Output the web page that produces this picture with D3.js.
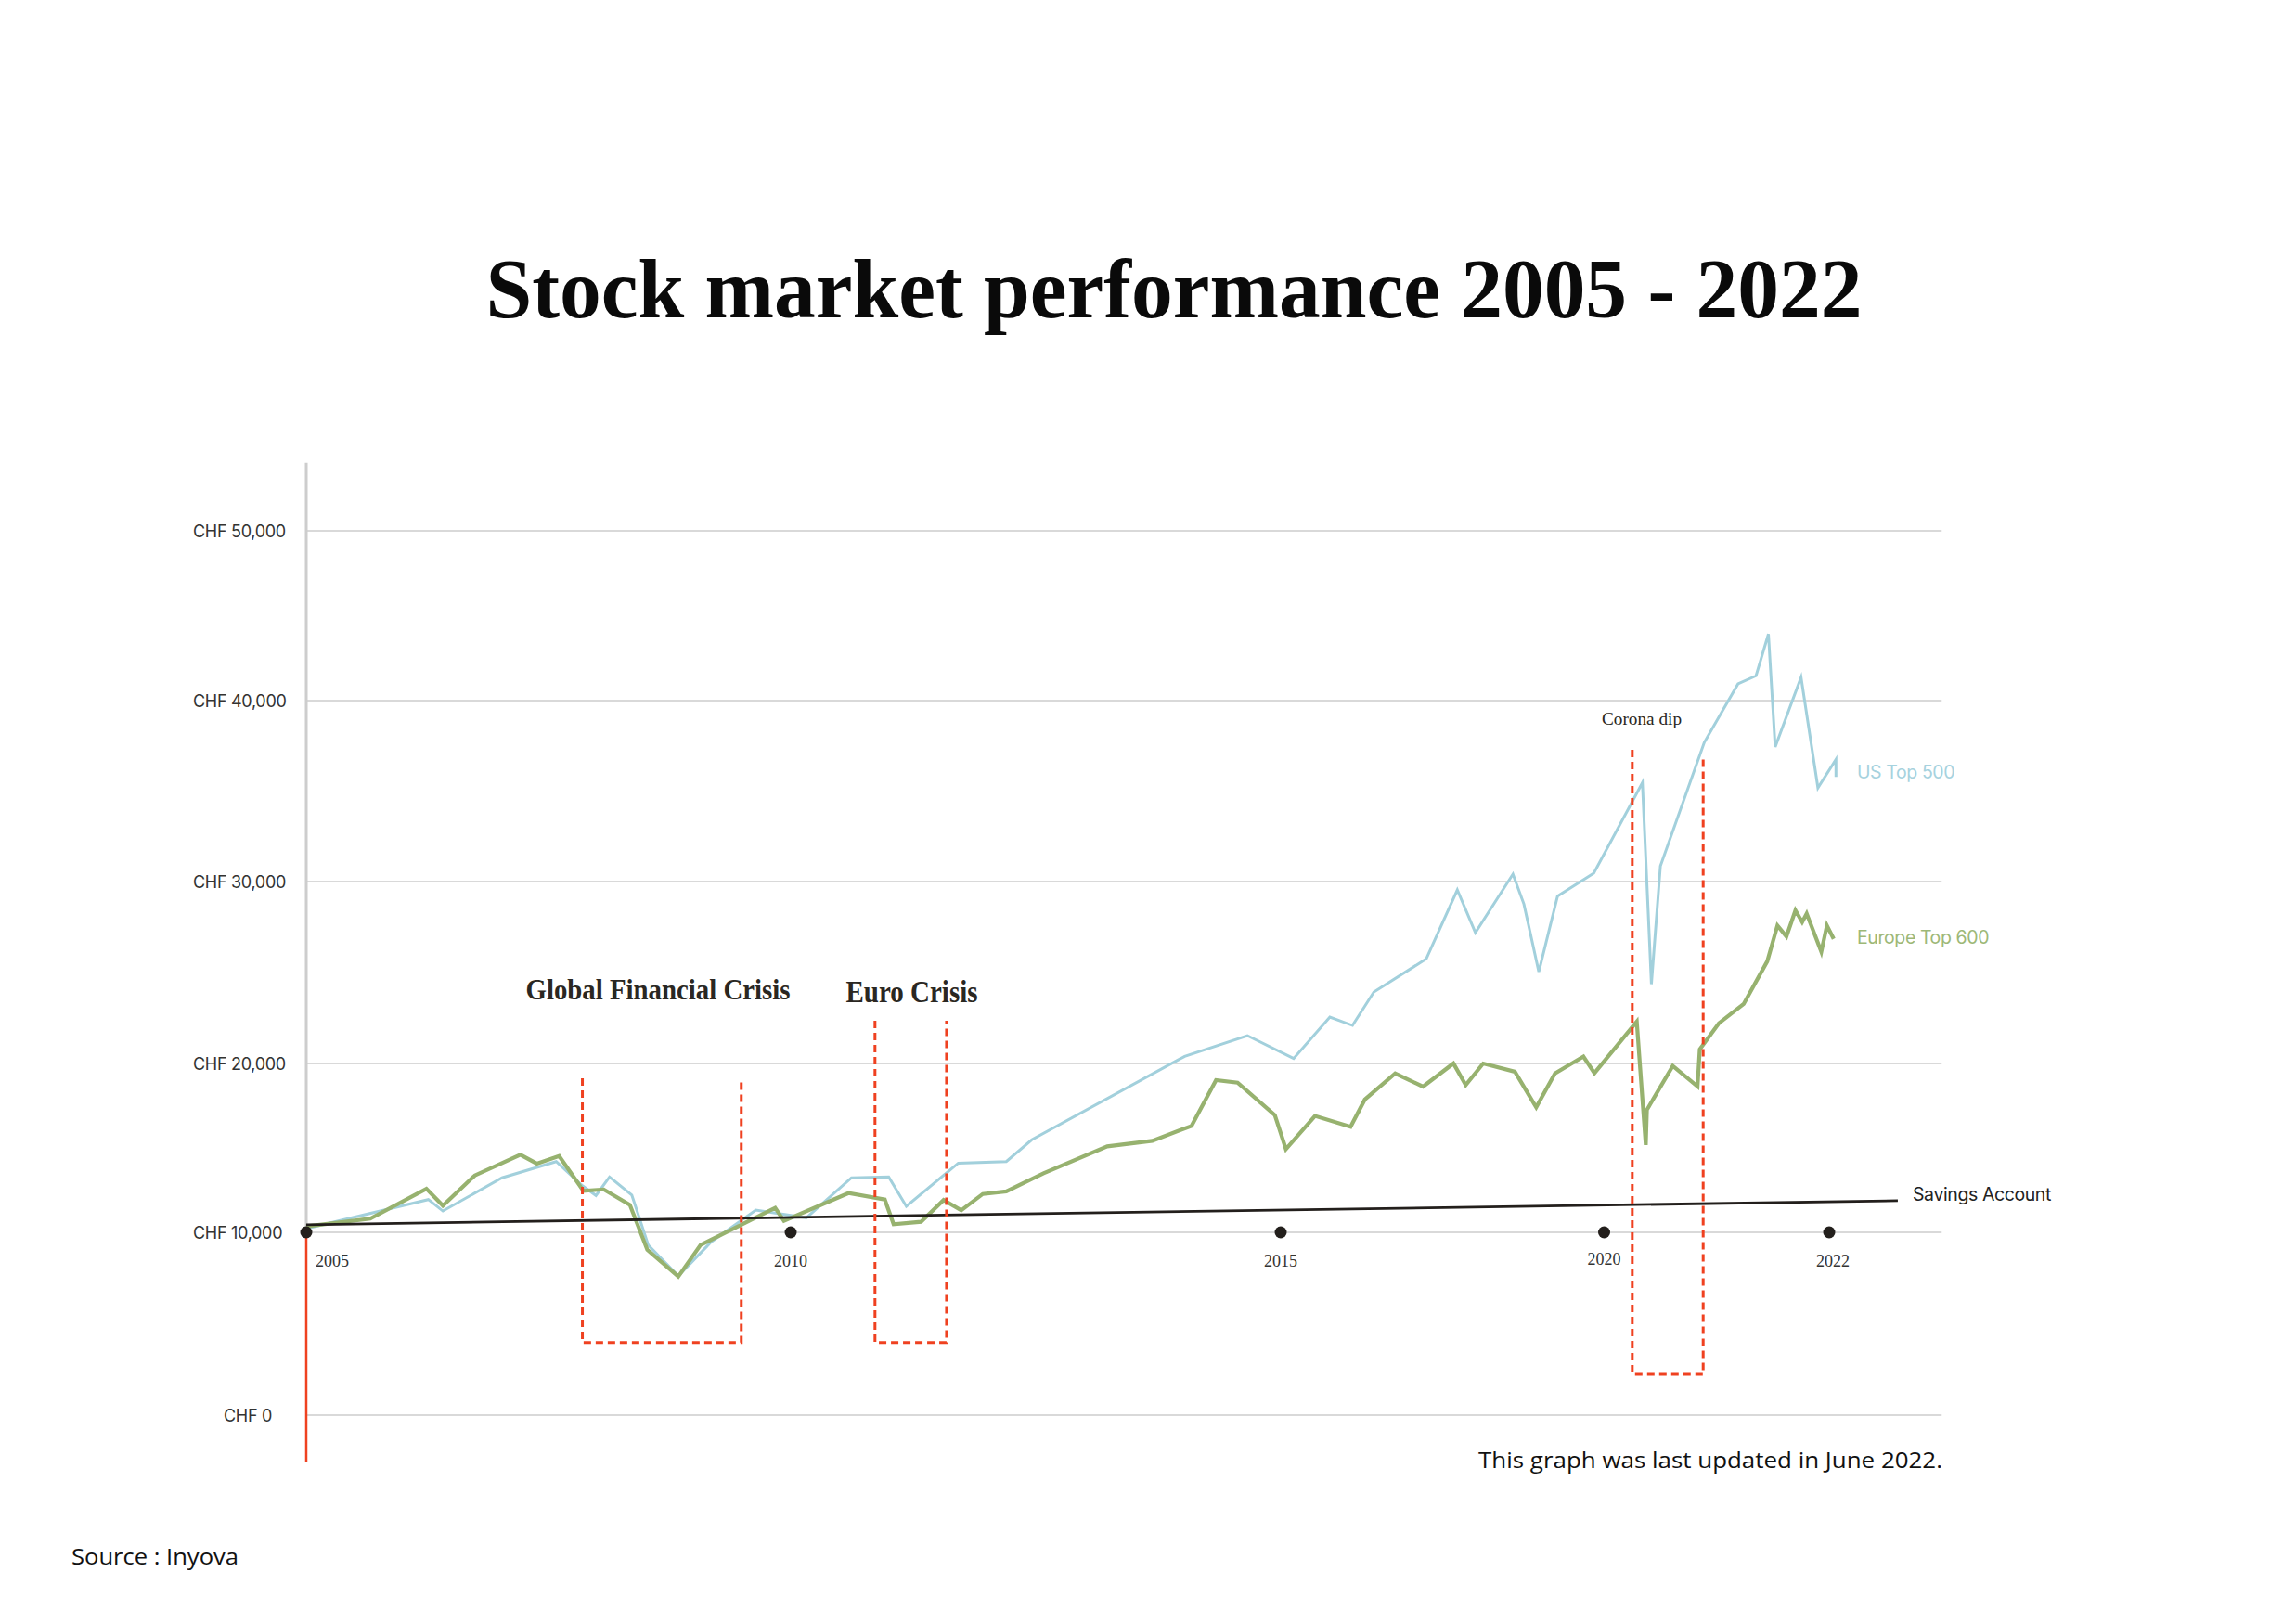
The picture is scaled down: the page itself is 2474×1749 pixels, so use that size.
<!DOCTYPE html>
<html>
<head>
<meta charset="utf-8">
<script src="https://cdn.jsdelivr.net/npm/d3@7"></script>
<style>
  html, body { margin: 0; padding: 0; background: #ffffff; }
  svg { display: block; }
</style>
</head>
<body>
<svg id="chart" width="2474" height="1749"></svg>
<script>
// ---------------- DATA ----------------
const yearTicks = [2005, 2010, 2015, 2020, 2022];
const yearLabels = ["2005", "2010", "2015", "2020", "2022"];
const valueTicks = [0, 10000, 20000, 30000, 40000, 50000];
const valueLabels = ["CHF 0", "CHF 10,000", "CHF 20,000", "CHF 30,000", "CHF 40,000", "CHF 50,000"];

const usDates = [2005.00, 2006.26, 2006.41, 2007.02, 2007.58, 2007.85, 2007.99, 2008.13, 2008.36, 2008.53,
  2008.84, 2009.18, 2009.64, 2010.16, 2010.62, 2011.00, 2011.18, 2011.71, 2012.20, 2012.46,
  2014.02, 2014.66, 2015.20, 2015.76, 2016.11, 2016.44, 2017.25, 2017.73, 2018.01, 2018.59,
  2018.76, 2018.99, 2019.28, 2019.84, 2020.34, 2020.42, 2020.50, 2020.89, 2021.19, 2021.35,
  2021.46, 2021.52, 2021.75, 2021.90, 2022.06, 2022.06];
const usValues = [10220, 11940, 11260, 13230, 14190, 12760, 12180, 13280, 12210, 9300,
  7610, 9480, 11320, 10860, 13230, 13280, 11540, 14100, 14190, 15480,
  20390, 21530, 20270, 22550, 22090, 23930, 25750, 29540, 27190, 30410,
  28760, 25040, 29200, 30460, 35460, 24360, 30860, 37690, 40990, 41460,
  43920, 37440, 41370, 35180, 36750, 35780];

const euDates = [2005.00, 2005.66, 2006.24, 2006.41, 2006.74, 2007.21, 2007.38, 2007.61, 2007.86, 2008.07,
  2008.34, 2008.52, 2008.84, 2009.07, 2009.84, 2009.93, 2010.59, 2010.96, 2011.05, 2011.33,
  2011.56, 2011.74, 2011.96, 2012.20, 2012.58, 2013.23, 2013.69, 2014.09, 2014.34, 2014.56,
  2014.94, 2015.08, 2015.53, 2016.08, 2016.30, 2016.77, 2017.20, 2017.67, 2017.86, 2018.13,
  2018.62, 2018.95, 2019.24, 2019.68, 2019.85, 2020.29, 2020.37, 2020.38, 2020.61, 2020.83,
  2020.85, 2021.02, 2021.24, 2021.45, 2021.54, 2021.62, 2021.70, 2021.76, 2021.80, 2021.93,
  2021.98, 2022.04];
const euValues = [10350, 10810, 12580, 11580, 13370, 14600, 14070, 14520, 12460, 12540,
  11630, 9050, 7580, 9310, 11450, 10680, 12320, 11940, 10480, 10620,
  11910, 11300, 12270, 12420, 13500, 15090, 15420, 16300, 19010, 18860,
  16940, 14930, 16890, 16250, 17860, 19410, 18630, 20000, 18720, 20000,
  19510, 17400, 19410, 20380, 19430, 22300, 15170, 17250, 19850, 18640,
  20780, 22210, 23270, 25620, 27580, 26980, 28420, 27770, 28240, 26140,
  27580, 26850];

const savingsDates = [2005.00, 2022.61];
const savingsValues = [10450, 11870];

const crisisNames = ["Global Financial Crisis", "Euro Crisis", "Corona dip"];
const crisisFrom = [2007.85, 2010.86, 2020.25];
const crisisTo = [2009.49, 2011.59, 2020.88];
const crisisTopLeft = [19120, 22350, 37280];
const crisisTopRight = [19120, 22350, 36970];
const crisisBottom = [3975, 3975, 2230];

const seriesNames = ["US Top 500", "Europe Top 600", "Savings Account"];

// ---------------- DRAWING ----------------
const svg = d3.select("#chart");
const COL_US = "#a2d0dc", COL_EU = "#97b26f", COL_RED = "#ef4120", COL_DARK = "#231f1c";
const SANS = "Inter, 'Noto Sans', sans-serif";
const SERIF = "'Liberation Serif', 'DejaVu Serif', serif";
const BODY = "'Open Sans', 'Noto Sans', sans-serif";

const x = d3.scaleLinear().domain(yearTicks).range([330, 852, 1380, 1728.5, 1971]);
const y = d3.scaleLinear().domain(valueTicks).range([1525, 1328, 1146, 950, 755, 572]);

// title
svg.append("text")
  .attr("x", 1265).attr("y", 342)
  .attr("text-anchor", "middle")
  .attr("font-family", SERIF).attr("font-weight", 700).attr("font-size", 90)
  .attr("textLength", 1483).attr("lengthAdjust", "spacingAndGlyphs")
  .attr("fill", "#0a0a0a")
  .text("Stock market performance 2005 - 2022");

// grid lines
svg.append("g").selectAll("line").data(valueTicks).join("line")
  .attr("x1", x(2005) + 1).attr("x2", x(2023))
  .attr("y1", d => y(d)).attr("y2", d => y(d))
  .attr("stroke", "#cdcdcd").attr("stroke-width", 1.6);

// y axis line (grey above 10k, red below)
svg.append("line")
  .attr("x1", x(2005)).attr("x2", x(2005))
  .attr("y1", y(54000)).attr("y2", y(10000))
  .attr("stroke", "#cdcdcd").attr("stroke-width", 3);
svg.append("line")
  .attr("x1", x(2005)).attr("x2", x(2005))
  .attr("y1", y(10000)).attr("y2", y(-2550))
  .attr("stroke", COL_RED).attr("stroke-width", 2.5);

// y labels
svg.append("g").selectAll("text").data(valueTicks).join("text")
  .attr("x", d => d === 0 ? 241 : 208)
  .attr("y", d => y(d) + 6.5)
  .attr("font-family", SANS).attr("font-size", 18).attr("fill", "#333")
  .attr("letter-spacing", -0.3)
  .text((d, i) => valueLabels[i]);

// lines
const line = d3.line().x(d => x(d[0])).y(d => y(d[1]));
const usData = usDates.map((d, i) => [d, usValues[i]]);
const euData = euDates.map((d, i) => [d, euValues[i]]);
const savData = savingsDates.map((d, i) => [d, savingsValues[i]]);

svg.append("path").datum(usData).attr("d", line)
  .attr("fill", "none").attr("stroke", COL_US).attr("stroke-width", 3);
svg.append("path").datum(euData).attr("d", line)
  .attr("fill", "none").attr("stroke", COL_EU).attr("stroke-width", 4.2);
svg.append("path").datum(savData).attr("d", line)
  .attr("fill", "none").attr("stroke", COL_DARK).attr("stroke-width", 2.8);

// crisis boxes
crisisNames.forEach((name, i) => {
  const p = d3.path();
  p.moveTo(x(crisisFrom[i]), y(crisisTopLeft[i]));
  p.lineTo(x(crisisFrom[i]), y(crisisBottom[i]));
  p.lineTo(x(crisisTo[i]), y(crisisBottom[i]));
  p.lineTo(x(crisisTo[i]), y(crisisTopRight[i]));
  svg.append("path").attr("d", p.toString())
    .attr("fill", "none").attr("stroke", COL_RED).attr("stroke-width", 3)
    .attr("stroke-dasharray", "8,5");
});

// crisis labels
svg.append("text").attr("x", 709).attr("y", 1077).attr("text-anchor", "middle")
  .attr("font-family", SERIF).attr("font-weight", 700).attr("font-size", 31)
  .attr("textLength", 285).attr("lengthAdjust", "spacingAndGlyphs")
  .attr("fill", "#2a2722").text(crisisNames[0]);
svg.append("text").attr("x", 982.5).attr("y", 1080).attr("text-anchor", "middle")
  .attr("font-family", SERIF).attr("font-weight", 700).attr("font-size", 33)
  .attr("textLength", 142).attr("lengthAdjust", "spacingAndGlyphs")
  .attr("fill", "#2a2722").text(crisisNames[1]);
svg.append("text").attr("x", 1769).attr("y", 781).attr("text-anchor", "middle")
  .attr("font-family", SERIF).attr("font-size", 19)
  .attr("textLength", 86).attr("lengthAdjust", "spacingAndGlyphs")
  .attr("fill", "#2a2722").text(crisisNames[2]);

// year dots
svg.append("g").selectAll("circle").data(yearTicks).join("circle")
  .attr("cx", d => x(d)).attr("cy", y(10000)).attr("r", 6.5)
  .attr("fill", COL_DARK);

// year labels
svg.append("g").selectAll("text").data(yearTicks).join("text")
  .attr("x", d => d === 2005 ? x(d) + 10 : x(d) + (d === 2022 ? 4 : 0))
  .attr("y", d => d === 2020 ? 1363 : 1365)
  .attr("text-anchor", d => d === 2005 ? "start" : "middle")
  .attr("font-family", SERIF).attr("font-size", 18).attr("fill", "#333")
  .text((d, i) => yearLabels[i]);

// series labels
svg.append("text").attr("x", 2001).attr("y", 839)
  .attr("font-family", SANS).attr("font-size", 19.5).attr("fill", "#a6d2de")
  .attr("letter-spacing", -0.4).text(seriesNames[0]);
svg.append("text").attr("x", 2001).attr("y", 1017)
  .attr("font-family", SANS).attr("font-size", 19.5).attr("fill", "#9db877")
  .attr("letter-spacing", -0.4).text(seriesNames[1]);
svg.append("text").attr("x", 2061).attr("y", 1294)
  .attr("font-family", SANS).attr("font-size", 19.5).attr("fill", "#222")
  .attr("letter-spacing", -0.4).text(seriesNames[2]);

// footer notes
svg.append("text").attr("x", 1593).attr("y", 1582)
  .attr("font-family", BODY).attr("font-size", 23).attr("fill", "#111")
  .attr("textLength", 500).attr("lengthAdjust", "spacingAndGlyphs")
  .text("This graph was last updated in June 2022.");
svg.append("text").attr("x", 77).attr("y", 1686)
  .attr("font-family", BODY).attr("font-size", 23).attr("fill", "#111")
  .attr("textLength", 180).attr("lengthAdjust", "spacingAndGlyphs")
  .text("Source : Inyova");
</script>
</body>
</html>
